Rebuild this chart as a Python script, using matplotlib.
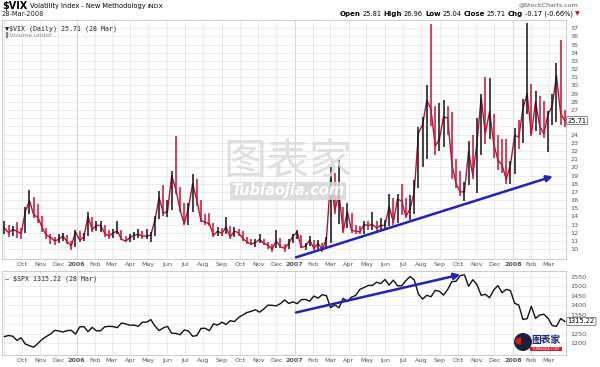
import numpy as np
import pandas as pd
import matplotlib
matplotlib.use('Agg')
import matplotlib.pyplot as plt
import matplotlib.dates as mdates
from matplotlib.patches import Ellipse, Wedge

# weekly (Friday) readings, Sep 2005 .. 28 Mar 2008
weeks = pd.date_range('2005-09-02', '2008-03-28', freq='W-FRI')

vix_close = [
    12.6, 12.0, 12.4, 12.2, 11.9,          # Sep 05
    14.6, 15.9, 14.2, 13.9,                # Oct
    12.7, 11.7, 11.5, 11.0,                # Nov
    11.2, 11.6, 10.9, 10.4, 12.1,          # Dec
    11.1, 11.5, 14.0, 12.4,                # Jan 06
    12.9, 12.9, 11.9, 11.6,                # Feb
    12.0, 12.2, 11.2, 11.0, 11.4,          # Mar
    11.7, 11.8, 11.6, 11.6,                # Apr
    11.7, 13.6, 16.3, 14.4,                # May
    14.6, 19.0, 17.3, 14.8, 13.1,          # Jun
    15.0, 18.0, 16.0, 13.5,                # Jul
    13.3, 13.1, 11.7, 12.2,                # Aug
    11.9, 12.7, 11.5, 12.2, 12.0,          # Sep
    11.3, 10.9, 10.6, 10.8,                # Oct
    11.2, 10.7, 10.5, 10.0,                # Nov
    11.0, 10.3, 10.1, 10.7, 11.6,          # Dec
    12.1, 10.2, 10.4, 11.1,                # Jan 07
    10.1, 10.7, 10.0, 11.2,                # Feb
    18.6, 14.7, 16.8, 12.2, 14.6,          # Mar
    12.3, 12.2, 12.1, 13.0,                # Apr
    12.9, 13.0, 12.6, 12.9,                # May
    12.9, 15.2, 13.3, 16.1, 15.9,          # Jun
    14.0, 14.9, 17.0, 24.2,                # Jul
    25.2, 28.2, 27.1, 22.6, 23.4,          # Aug
    26.2, 26.0, 20.4, 18.0,                # Sep
    17.0, 17.0, 22.0, 19.0,                # Oct
    23.0, 28.5, 24.1, 26.8, 22.9,          # Nov
    20.9, 20.3, 18.5, 20.3,                # Dec
    23.9, 23.7, 27.2, 29.0,                # Jan 08
    24.0, 28.0, 25.0, 24.1, 26.5,          # Feb
    27.5, 31.2, 26.6, 25.71,               # Mar
]
vix_low = [
    11.8, 11.5, 11.6, 11.4, 11.3,
    12.0, 14.3, 13.8, 13.2,
    12.1, 11.3, 10.6, 10.5,
    10.7, 11.0, 10.6, 9.9, 10.3,
    10.9, 11.0, 11.6, 12.1,
    12.2, 12.1, 11.5, 11.3,
    11.4, 11.8, 11.1, 10.9, 10.9,
    11.1, 11.4, 11.2, 11.3,
    10.9, 11.6, 13.7, 14.0,
    13.9, 14.8, 16.8, 14.6, 12.9,
    13.0, 14.6, 15.3, 13.3,
    13.0, 12.8, 11.5, 11.6,
    11.6, 11.8, 11.3, 11.5, 11.6,
    11.0, 10.6, 10.5, 10.3,
    10.7, 10.5, 10.0, 9.6,
    10.2, 10.1, 9.7, 10.0, 10.8,
    11.3, 10.1, 9.9, 10.4,
    9.9, 10.0, 9.7, 10.1,
    10.7, 14.3, 13.1, 12.0, 12.6,
    12.0, 11.8, 11.8, 11.9,
    12.3, 12.3, 12.1, 12.2,
    12.4, 12.8, 12.9, 13.2, 14.2,
    13.8, 13.6, 14.3, 17.5,
    20.0, 21.0, 25.0, 21.5, 22.0,
    22.5, 24.0, 18.6, 17.5,
    16.5, 15.9, 17.9, 18.6,
    16.9, 21.5, 22.9, 23.5, 21.2,
    19.7, 19.3, 18.0, 18.0,
    19.2, 22.2, 23.0, 26.5,
    23.8, 24.4, 24.0, 23.6, 21.9,
    25.2, 25.5, 25.2, 24.9,
]
vix_high = [
    13.4, 12.9, 12.8, 13.3, 12.6,
    15.2, 17.2, 16.4, 15.5,
    14.0, 12.6, 11.9, 11.5,
    11.8, 12.0, 11.7, 11.0, 12.3,
    12.2, 12.0, 14.6, 13.9,
    13.4, 13.5, 13.0, 12.3,
    12.5, 13.4, 12.3, 11.6, 11.8,
    12.1, 12.5, 12.2, 12.5,
    12.1, 14.1, 17.1, 17.8,
    16.0, 19.6, 23.8, 17.6, 15.6,
    15.6, 19.2, 18.6, 16.0,
    14.3, 14.4, 13.2, 12.7,
    12.6, 13.9, 12.8, 12.7, 12.5,
    12.2, 11.5, 11.2, 11.3,
    11.9, 11.3, 10.9, 10.6,
    12.4, 11.4, 10.6, 11.2, 11.9,
    12.4, 11.7, 10.8, 11.6,
    11.1, 11.1, 10.7, 11.5,
    20.0, 19.3, 20.9, 15.2, 15.6,
    14.4, 13.0, 12.8, 13.5,
    13.5, 14.5, 13.4, 13.8,
    13.6, 16.8, 16.3, 16.8, 18.0,
    16.3, 16.6, 18.4, 24.9,
    26.2, 30.0, 37.5, 27.5, 27.9,
    28.2, 27.5, 26.7, 21.0,
    19.5, 18.2, 23.2, 23.9,
    26.0, 28.9, 31.0, 30.9, 26.5,
    24.0, 23.5, 23.5, 20.8,
    24.8, 25.8, 28.3, 37.6,
    30.2, 29.3, 28.7, 28.1, 26.9,
    29.0, 32.8, 35.6, 27.0,
]
spx_close = [
    1235, 1241, 1237, 1215, 1229,
    1196, 1187, 1179, 1199,
    1220, 1235, 1248, 1268,
    1265, 1259, 1267, 1268, 1248,
    1286, 1288, 1261, 1284,
    1265, 1266, 1287, 1289,
    1288, 1282, 1307, 1302, 1295,
    1296, 1289, 1311, 1311,
    1325, 1291, 1267, 1281,
    1289, 1253, 1252, 1245, 1270,
    1265, 1237, 1240, 1278,
    1279, 1266, 1302, 1296,
    1311, 1299, 1319, 1314, 1336,
    1349, 1362, 1368, 1377,
    1364, 1380, 1401, 1400,
    1397, 1409, 1428, 1410, 1418,
    1409, 1430, 1431, 1422,
    1449, 1438, 1456, 1451,
    1387, 1402, 1387, 1437, 1421,
    1443, 1452, 1484, 1494,
    1505, 1505, 1522, 1515,
    1536, 1507, 1533, 1503, 1503,
    1530, 1552, 1534, 1459,
    1433, 1453, 1445, 1479, 1474,
    1454, 1484, 1525, 1527,
    1557, 1561, 1500, 1535,
    1509, 1453, 1458, 1440, 1481,
    1504, 1467, 1484, 1478,
    1411, 1401, 1325, 1330,
    1395, 1331, 1349, 1353, 1331,
    1293, 1289, 1330, 1315.22,
]

vix_ticks = list(range(10, 38))
vix_hidden = [25, 26]          # covered by the last-value box
spx_ticks = [1200, 1250, 1300, 1350, 1400, 1450, 1500, 1550]
spx_hidden = [1300]
months = pd.date_range('2005-10-01', '2008-03-01', freq='MS')
month_labels = [str(m.year) if m.month == 1 else m.strftime('%b') for m in months]

# trend arrows drawn on the original
vix_arrow = (('2007-01-03', 9.0), ('2008-03-08', 18.9))
spx_arrow = (('2007-01-03', 1362), ('2007-10-05', 1562))

W, H = 600, 367


def fx(px):
    return px / W


def fy(py):
    return 1 - py / H


def text_row(fig, x, y, parts, align='left', gap=2.5):
    r = fig.canvas.get_renderer()
    if align == 'right':
        parts = parts[::-1]
    for s, kw in parts:
        t = fig.text(x, y, s, ha=align, va='center', **kw)
        w = (t.get_window_extent(r).width + gap) / fig.bbox.width
        x = x + w if align == 'left' else x - w


def style_axis(ax, yticks, hidden):
    ax.yaxis.tick_right()
    ax.set_yticks(yticks)
    ax.set_yticklabels(['' if v in hidden else str(v) for v in yticks])
    ax.set_xticks(mdates.date2num(months))
    ax.set_xticklabels(month_labels)
    for lab in ax.get_xticklabels():
        if lab.get_text().startswith('20'):
            lab.set_fontweight('bold')
            lab.set_color('#222222')
    ax.tick_params(axis='both', length=0, labelsize=4.6, colors='#555555')
    ax.tick_params(axis='x', pad=2)
    ax.tick_params(axis='y', pad=3)
    ax.grid(True, color='#e4e4e4', lw=0.5)
    ax.set_axisbelow(True)
    ax.axvline(pd.Timestamp('2005-09-01'), color='#e4e4e4', lw=0.5, zorder=0.5)
    for m in months:
        if m.month == 1:
            ax.axvline(m, color='#a8a8a8', lw=0.6, zorder=0.5)
    for s in ax.spines.values():
        s.set_color('#c4c4c4')
        s.set_linewidth(0.6)
    ax.set_xlim(pd.Timestamp('2005-08-29'), pd.Timestamp('2008-03-30'))


fig = plt.figure(figsize=(6, 3.67), dpi=100)
ax1 = fig.add_axes([fx(2), fy(259), fx(564), fy(20) - fy(259)])
ax2 = fig.add_axes([fx(2), fy(355), fx(564), fy(271) - fy(355)])

x = mdates.date2num(weeks)
c = np.array(vix_close)
up = np.r_[True, c[1:] >= c[:-1]]
cols = np.where(up, '#111111', '#c8102e')
ax1.plot(x, c, color='#b3123a', lw=1.0, zorder=2)
ax1.vlines(x, vix_low, vix_high, colors=cols, lw=1.1, zorder=3)
ax1.set_ylim(8.8, 38.0)
style_axis(ax1, vix_ticks, vix_hidden)

ax2.plot(x, spx_close, color='#111111', lw=1.0, zorder=3)
ax2.set_ylim(1138, 1581)
style_axis(ax2, spx_ticks, spx_hidden)

for ax, (a, b) in ((ax1, vix_arrow), (ax2, spx_arrow)):
    ax.annotate('', xy=(mdates.datestr2num(b[0]), b[1]),
                xytext=(mdates.datestr2num(a[0]), a[1]),
                arrowprops=dict(arrowstyle='-|>', color='#2222bb', lw=1.8,
                                mutation_scale=9, shrinkA=0, shrinkB=0),
                zorder=6)

# last-value boxes on the right axis
box = dict(boxstyle='round,pad=0.15', fc='white', ec='#555555', lw=0.5)
ax1.annotate('25.71', xy=(1.003, vix_close[-1]), xycoords=('axes fraction', 'data'),
             fontsize=4.8, va='center', ha='left', bbox=box, zorder=10, annotation_clip=False)
ax2.annotate('1315.22', xy=(1.003, spx_close[-1]), xycoords=('axes fraction', 'data'),
             fontsize=4.8, va='center', ha='left', bbox=box, zorder=10, annotation_clip=False)

# legends inside panels
ax1.text(0.006, 0.975, '\u25bc$VIX (Daily) 25.71 (28 Mar)', transform=ax1.transAxes,
         family='DejaVu Sans Mono', fontsize=4.8, va='top', color='#222222')
ax1.text(0.006, 0.95, '\u258cVolume undef', transform=ax1.transAxes,
         fontsize=4.3, va='top', color='#888888')
ax2.text(0.006, 0.95, '\u2014 $SPX 1315.22 (28 Mar)', transform=ax2.transAxes,
         family='DejaVu Sans Mono', fontsize=4.8, va='top', color='#222222')

# header
text_row(fig, fx(2), fy(6), [('$VIX', dict(fontsize=7, weight='bold')),
                             ('Volatility Index - New Methodology', dict(fontsize=4.8)),
                             ('INDX', dict(fontsize=4.6))])
fig.text(fx(2), fy(14), '28-Mar-2008', fontsize=4.8, va='center', color='#222222')
fig.text(fx(578), fy(5), '@StockCharts.com', fontsize=4.5, ha='right', va='center',
         color='#555555')
b = dict(fontsize=5, weight='bold')
n = dict(fontsize=4.8)
text_row(fig, fx(580), fy(14), [('Open', b), ('25.81', n), ('High', b), ('26.96', n),
                                ('Low', b), ('25.04', n), ('Close', b), ('25.71', n),
                                ('Chg', b), ('-0.17 (-0.66%)', n),
                                ('\u25bc', dict(fontsize=4.5, color='#cc1122'))],
         align='right', gap=2)

# watermark
fig.text(fx(288), fy(162), '图表家', family=['Noto Sans CJK SC', 'DejaVu Sans'],
         fontsize=31, color='#dadada', ha='center', va='center', alpha=0.85, zorder=0)
fig.text(fx(288), fy(191), 'Tubiaojia.com', fontsize=10.5, style='italic', weight='bold',
         color='white', ha='center', va='center', zorder=1,
         bbox=dict(boxstyle='square,pad=0.12', fc='#d8d8d8', ec='none', alpha=0.85))

# small logo at bottom right
fig.add_artist(Ellipse((fx(523), fy(342)), 18 / W, 18 / H, transform=fig.transFigure,
                       fc='#1a1f3a', ec='none', zorder=11))
fig.add_artist(Wedge((fx(521), fy(341)), 6 / W, 90, 270, transform=fig.transFigure,
                     fc='#d01c24', ec='none', zorder=12))
fig.text(fx(546), fy(340), '图表家', family=['Noto Sans CJK SC', 'DejaVu Sans'],
         fontsize=7, weight='bold', color='#1c2d6b', ha='center', va='center', zorder=12)
fig.text(fx(546), fy(349), '  TUBIAOJIA.COM  ', fontsize=2.5, color='white',
         ha='center', va='center', zorder=12,
         bbox=dict(boxstyle='square,pad=0.1', fc='#d01c24', ec='none'))

fig.savefig('out.png', dpi=100)
